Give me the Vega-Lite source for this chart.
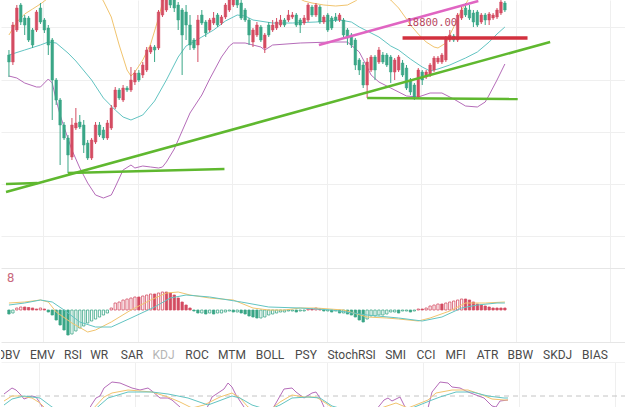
{
"$schema": "https://vega.github.io/schema/vega-lite/v6.json",
"background": "white",
"padding": 0,
"spacing": 0,
"bounds": "flush",
"config": {"view": {"stroke": null}, "axis": {"gridColor": "#efefef", "gridWidth": 1}},
"resolve": {"scale": {"x": "independent", "y": "independent"}, "axis": {"x": "independent", "y": "independent"}},
"datasets": {
"candles": [
{"i":0,"o":18630,"h":18680,"l":18410,"c":18560},{"i":1,"o":18560,"h":18960,"l":18530,"c":18930},{"i":2,"o":18880,"h":19130,"l":18860,"c":19100},{"i":3,"o":19130,"h":19150,"l":18930,"c":18960},{"i":4,"o":19000,"h":19030,"l":18830,"c":18930},{"i":5,"o":19000,"h":19020,"l":18760,"c":18780},{"i":6,"o":18880,"h":18900,"l":18700,"c":18730},{"i":7,"o":18880,"h":19080,"l":18860,"c":19060},{"i":8,"o":19100,"h":19150,"l":18940,"c":18960},{"i":9,"o":18980,"h":19000,"l":18850,"c":18880},
{"i":10,"o":18900,"h":18930,"l":18630,"c":18730},{"i":11,"o":18780,"h":18800,"l":17980,"c":18380},{"i":12,"o":18380,"h":18400,"l":18130,"c":18180},{"i":13,"o":18180,"h":18200,"l":17530,"c":17930},{"i":14,"o":17930,"h":17960,"l":17780,"c":17800},{"i":15,"o":17800,"h":17830,"l":17450,"c":17630},{"i":16,"o":17610,"h":18000,"l":17580,"c":17930},{"i":17,"o":17900,"h":18100,"l":17880,"c":17950},{"i":18,"o":17960,"h":18030,"l":17890,"c":17910},{"i":19,"o":17930,"h":17980,"l":17650,"c":17730},
{"i":20,"o":17750,"h":17780,"l":17580,"c":17600},{"i":21,"o":17600,"h":17800,"l":17580,"c":17780},{"i":22,"o":17760,"h":17960,"l":17740,"c":17930},{"i":23,"o":17930,"h":17960,"l":17810,"c":17830},{"i":24,"o":17880,"h":17910,"l":17780,"c":17800},{"i":25,"o":17800,"h":17980,"l":17780,"c":17950},{"i":26,"o":17900,"h":18130,"l":17880,"c":18100},{"i":27,"o":18110,"h":18310,"l":18090,"c":18280},{"i":28,"o":18280,"h":18300,"l":18180,"c":18200},{"i":29,"o":18180,"h":18330,"l":18160,"c":18300},
{"i":30,"o":18300,"h":18320,"l":18260,"c":18280},{"i":31,"o":18280,"h":18510,"l":18260,"c":18380},{"i":32,"o":18360,"h":18480,"l":18330,"c":18450},{"i":33,"o":18450,"h":18480,"l":18360,"c":18380},{"i":34,"o":18430,"h":18560,"l":18400,"c":18530},{"i":35,"o":18480,"h":18710,"l":18460,"c":18680},{"i":36,"o":18660,"h":18730,"l":18640,"c":18710},{"i":37,"o":18710,"h":18730,"l":18560,"c":18680},{"i":38,"o":18700,"h":19080,"l":18680,"c":19060},{"i":39,"o":19030,"h":19230,"l":19010,"c":19180},
{"i":40,"o":19080,"h":19260,"l":19060,"c":19210},{"i":41,"o":19210,"h":19260,"l":19100,"c":19130},{"i":42,"o":19180,"h":19230,"l":19060,"c":19100},{"i":43,"o":19130,"h":19160,"l":18880,"c":18980},{"i":44,"o":19080,"h":19100,"l":18430,"c":18830},{"i":45,"o":19060,"h":19130,"l":18780,"c":18930},{"i":46,"o":18930,"h":19030,"l":18680,"c":18730},{"i":47,"o":18780,"h":18800,"l":18680,"c":18700},{"i":48,"o":18730,"h":19030,"l":18560,"c":18980},{"i":49,"o":19030,"h":19080,"l":18930,"c":18950},
{"i":50,"o":18960,"h":18980,"l":18810,"c":18850},{"i":51,"o":18880,"h":19000,"l":18860,"c":18980},{"i":52,"o":18950,"h":19060,"l":18930,"c":19000},{"i":53,"o":19030,"h":19050,"l":18910,"c":18930},{"i":54,"o":18950,"h":19030,"l":18930,"c":19010},{"i":55,"o":19010,"h":19150,"l":18990,"c":19130},{"i":56,"o":19080,"h":19210,"l":19060,"c":19180},{"i":57,"o":19130,"h":19230,"l":19110,"c":19180},{"i":58,"o":19180,"h":19210,"l":19100,"c":19130},{"i":59,"o":19150,"h":19180,"l":18980,"c":19000},
{"i":60,"o":19080,"h":19100,"l":18960,"c":18980},{"i":61,"o":18980,"h":19000,"l":18730,"c":18830},{"i":62,"o":18760,"h":18900,"l":18710,"c":18880},{"i":63,"o":18830,"h":18960,"l":18810,"c":18930},{"i":64,"o":18910,"h":18930,"l":18760,"c":18780},{"i":65,"o":18700,"h":18850,"l":18650,"c":18830},{"i":66,"o":18930,"h":18960,"l":18810,"c":18830},{"i":67,"o":18880,"h":18980,"l":18860,"c":18930},{"i":68,"o":18900,"h":19000,"l":18880,"c":18960},{"i":69,"o":18930,"h":19030,"l":18910,"c":18980},
{"i":70,"o":18980,"h":19000,"l":18910,"c":18930},{"i":71,"o":18980,"h":19080,"l":18960,"c":19030},{"i":72,"o":19010,"h":19060,"l":18990,"c":19030},{"i":73,"o":19030,"h":19050,"l":18910,"c":18930},{"i":74,"o":18980,"h":19000,"l":18850,"c":18930},{"i":75,"o":18950,"h":19030,"l":18930,"c":19000},{"i":76,"o":18980,"h":19150,"l":18960,"c":19130},{"i":77,"o":19110,"h":19130,"l":19010,"c":19030},{"i":78,"o":19030,"h":19150,"l":19010,"c":19130},{"i":79,"o":19110,"h":19130,"l":18940,"c":18960},
{"i":80,"o":18960,"h":19030,"l":18940,"c":19010},{"i":81,"o":19030,"h":19050,"l":18860,"c":18880},{"i":82,"o":19000,"h":19020,"l":18880,"c":18900},{"i":83,"o":19010,"h":19050,"l":18960,"c":18980},{"i":84,"o":18980,"h":19050,"l":18960,"c":19030},{"i":85,"o":18980,"h":19000,"l":18810,"c":18830},{"i":86,"o":18880,"h":18900,"l":18730,"c":18800},{"i":87,"o":18830,"h":18850,"l":18700,"c":18730},{"i":88,"o":18780,"h":18800,"l":18480,"c":18530},{"i":89,"o":18580,"h":18600,"l":18430,"c":18480},
{"i":90,"o":18530,"h":18560,"l":18300,"c":18330},{"i":91,"o":18330,"h":18600,"l":18200,"c":18560},{"i":92,"o":18480,"h":18630,"l":18460,"c":18610},{"i":93,"o":18610,"h":18630,"l":18380,"c":18480},{"i":94,"o":18560,"h":18710,"l":18540,"c":18680},{"i":95,"o":18630,"h":18660,"l":18540,"c":18560},{"i":96,"o":18630,"h":18650,"l":18510,"c":18530},{"i":97,"o":18610,"h":18630,"l":18350,"c":18460},{"i":98,"o":18460,"h":18600,"l":18380,"c":18580},{"i":99,"o":18480,"h":18630,"l":18460,"c":18610},
{"i":100,"o":18550,"h":18580,"l":18410,"c":18430},{"i":101,"o":18500,"h":18530,"l":18280,"c":18300},{"i":102,"o":18380,"h":18400,"l":18230,"c":18260},{"i":103,"o":18330,"h":18350,"l":18180,"c":18210},{"i":104,"o":18210,"h":18500,"l":18190,"c":18480},{"i":105,"o":18460,"h":18480,"l":18330,"c":18380},{"i":106,"o":18410,"h":18480,"l":18390,"c":18460},{"i":107,"o":18430,"h":18550,"l":18410,"c":18530},{"i":108,"o":18480,"h":18620,"l":18460,"c":18600},{"i":109,"o":18560,"h":18620,"l":18540,"c":18600},
{"i":110,"o":18560,"h":18650,"l":18540,"c":18630},{"i":111,"o":18580,"h":18820,"l":18560,"c":18800},{"i":112,"o":18780,"h":18880,"l":18760,"c":18830},{"i":113,"o":18820,"h":18840,"l":18760,"c":18780},{"i":114,"o":18780,"h":19050,"l":18760,"c":19030},{"i":115,"o":19000,"h":19130,"l":18980,"c":19080},{"i":116,"o":19100,"h":19150,"l":19010,"c":19030},{"i":117,"o":19080,"h":19130,"l":18980,"c":19000},{"i":118,"o":19050,"h":19080,"l":18910,"c":18960},{"i":119,"o":19060,"h":19080,"l":18910,"c":18930},
{"i":120,"o":18960,"h":19050,"l":18940,"c":19030},{"i":121,"o":19030,"h":19050,"l":18930,"c":18980},{"i":122,"o":18980,"h":19060,"l":18930,"c":19040},{"i":123,"o":19000,"h":19050,"l":18980,"c":19030},{"i":124,"o":19010,"h":19100,"l":18990,"c":19080},{"i":125,"o":19050,"h":19180,"l":19030,"c":19160},{"i":126,"o":19150,"h":19170,"l":19060,"c":19080}
],
"boll": [
{"b":"up","i":0,"p":18830},{"b":"up","i":2,"p":18960},{"b":"up","i":4,"p":19040},{"b":"up","i":6,"p":19090},{"b":"up","i":8,"p":19140},{"b":"up","i":10,"p":19200},{"b":"up","i":12,"p":19280},{"b":"up","i":14,"p":19360},{"b":"up","i":16,"p":19430},{"b":"up","i":18,"p":19430},{"b":"up","i":20,"p":19380},{"b":"up","i":22,"p":19280},{"b":"up","i":24,"p":19170},{"b":"up","i":26,"p":19010},{"b":"up","i":28,"p":18730},{"b":"up","i":30,"p":18480},{"b":"up","i":31,"p":18420},{"b":"up","i":32,"p":18460},{"b":"up","i":34,"p":18580},{"b":"up","i":36,"p":18740},{"b":"up","i":38,"p":19000},{"b":"up","i":39,"p":19150},{"b":"up","i":40,"p":19280},{"b":"up","i":42,"p":19480},{"b":"up","i":45,"p":19580},{"b":"up","i":50,"p":19580},{"b":"up","i":60,"p":19480},{"b":"up","i":70,"p":19330},{"b":"up","i":73,"p":19210},{"b":"up","i":75,"p":19170},{"b":"up","i":77,"p":19150},{"b":"up","i":80,"p":19130},{"b":"up","i":83,"p":19120},{"b":"up","i":86,"p":19130},{"b":"up","i":88,"p":19170},{"b":"up","i":90,"p":19230},{"b":"up","i":93,"p":19280},{"b":"up","i":96,"p":19200},{"b":"up","i":97,"p":19180},{"b":"up","i":99,"p":19100},{"b":"up","i":101,"p":18990},{"b":"up","i":102,"p":18930},{"b":"up","i":104,"p":18840},{"b":"up","i":106,"p":18760},{"b":"up","i":108,"p":18710},{"b":"up","i":109,"p":18700},{"b":"up","i":111,"p":18750},{"b":"up","i":113,"p":18910},{"b":"up","i":114,"p":18990},{"b":"up","i":115,"p":19080},{"b":"up","i":117,"p":19200},{"b":"up","i":120,"p":19330},{"b":"up","i":123,"p":19400},{"b":"up","i":126,"p":19460},
{"b":"mid","i":0,"p":18630},{"b":"mid","i":4,"p":18680},{"b":"mid","i":8,"p":18730},{"b":"mid","i":10,"p":18760},{"b":"mid","i":12,"p":18750},{"b":"mid","i":15,"p":18650},{"b":"mid","i":17,"p":18570},{"b":"mid","i":21,"p":18380},{"b":"mid","i":24,"p":18200},{"b":"mid","i":27,"p":18080},{"b":"mid","i":29,"p":18010},{"b":"mid","i":31,"p":17980},{"b":"mid","i":34,"p":18030},{"b":"mid","i":37,"p":18170},{"b":"mid","i":40,"p":18380},{"b":"mid","i":43,"p":18610},{"b":"mid","i":45,"p":18720},{"b":"mid","i":49,"p":18810},{"b":"mid","i":52,"p":18880},{"b":"mid","i":55,"p":18970},{"b":"mid","i":58,"p":19030},{"b":"mid","i":60,"p":19020},{"b":"mid","i":62,"p":18980},{"b":"mid","i":67,"p":18950},{"b":"mid","i":72,"p":18950},{"b":"mid","i":78,"p":18960},{"b":"mid","i":84,"p":18980},{"b":"mid","i":87,"p":18960},{"b":"mid","i":89,"p":18910},{"b":"mid","i":92,"p":18850},{"b":"mid","i":94,"p":18810},{"b":"mid","i":97,"p":18720},{"b":"mid","i":99,"p":18680},{"b":"mid","i":102,"p":18590},{"b":"mid","i":105,"p":18510},{"b":"mid","i":107,"p":18470},{"b":"mid","i":109,"p":18490},{"b":"mid","i":112,"p":18530},{"b":"mid","i":116,"p":18600},{"b":"mid","i":119,"p":18660},{"b":"mid","i":122,"p":18760},{"b":"mid","i":124,"p":18840},{"b":"mid","i":126,"p":18910},
{"b":"low","i":0,"p":18420},{"b":"low","i":2,"p":18400},{"b":"low","i":4,"p":18350},{"b":"low","i":7,"p":18310},{"b":"low","i":8,"p":18310},{"b":"low","i":9,"p":18350},{"b":"low","i":10,"p":18390},{"b":"low","i":11,"p":18350},{"b":"low","i":12,"p":18180},{"b":"low","i":13,"p":18030},{"b":"low","i":14,"p":17910},{"b":"low","i":16,"p":17680},{"b":"low","i":18,"p":17500},{"b":"low","i":20,"p":17350},{"b":"low","i":22,"p":17230},{"b":"low","i":24,"p":17200},{"b":"low","i":26,"p":17230},{"b":"low","i":27,"p":17310},{"b":"low","i":29,"p":17480},{"b":"low","i":31,"p":17530},{"b":"low","i":32,"p":17500},{"b":"low","i":34,"p":17520},{"b":"low","i":36,"p":17510},{"b":"low","i":38,"p":17500},{"b":"low","i":39,"p":17510},{"b":"low","i":40,"p":17560},{"b":"low","i":42,"p":17690},{"b":"low","i":44,"p":17870},{"b":"low","i":46,"p":18050},{"b":"low","i":49,"p":18230},{"b":"low","i":51,"p":18390},{"b":"low","i":54,"p":18610},{"b":"low","i":56,"p":18720},{"b":"low","i":57,"p":18750},{"b":"low","i":60,"p":18750},{"b":"low","i":62,"p":18730},{"b":"low","i":64,"p":18710},{"b":"low","i":65,"p":18680},{"b":"low","i":67,"p":18730},{"b":"low","i":74,"p":18750},{"b":"low","i":82,"p":18760},{"b":"low","i":86,"p":18760},{"b":"low","i":89,"p":18660},{"b":"low","i":91,"p":18510},{"b":"low","i":92,"p":18430},{"b":"low","i":94,"p":18360},{"b":"low","i":97,"p":18300},{"b":"low","i":101,"p":18220},{"b":"low","i":104,"p":18210},{"b":"low","i":107,"p":18250},{"b":"low","i":110,"p":18250},{"b":"low","i":113,"p":18190},{"b":"low","i":116,"p":18120},{"b":"low","i":119,"p":18110},{"b":"low","i":121,"p":18160},{"b":"low","i":122,"p":18230},{"b":"low","i":124,"p":18380},{"b":"low","i":126,"p":18540}
],
"tl": [
{"id":"g1","i":-0.75,"p":17260},{"id":"g1","i":137.5,"p":18760},
{"id":"g2","i":-0.75,"p":17340},{"id":"g2","i":7.25,"p":17350},
{"id":"g3","i":15,"p":17450},{"id":"g3","i":54.75,"p":17490},
{"id":"g4","i":91,"p":18200},{"id":"g4","i":129.25,"p":18190},
{"id":"r","i":100,"p":18800},{"id":"r","i":131.75,"p":18800},
{"id":"pk","i":78.75,"p":18730},{"id":"pk","i":119.25,"p":19170}
],
"macdh": [
{"i":0,"h":-0.004},{"i":1,"h":-0.003},{"i":2,"h":0.002},{"i":3,"h":0.003},{"i":4,"h":0.003},{"i":5,"h":0.0025},{"i":6,"h":0.002},{"i":7,"h":0.001},{"i":8,"h":0.002},{"i":9,"h":0.001},
{"i":10,"h":-0.002},{"i":11,"h":-0.005},{"i":12,"h":-0.010},{"i":13,"h":-0.015},{"i":14,"h":-0.020},{"i":15,"h":-0.025},{"i":16,"h":-0.024},{"i":17,"h":-0.021},{"i":18,"h":-0.018},{"i":19,"h":-0.016},
{"i":20,"h":-0.013},{"i":21,"h":-0.011},{"i":22,"h":-0.009},{"i":23,"h":-0.007},{"i":24,"h":-0.005},{"i":25,"h":-0.003},{"i":26,"h":0.002},{"i":27,"h":0.007},{"i":28,"h":0.008},{"i":29,"h":0.010},
{"i":30,"h":0.011},{"i":31,"h":0.012},{"i":32,"h":0.013},{"i":33,"h":0.013},{"i":34,"h":0.014},{"i":35,"h":0.015},{"i":36,"h":0.016},{"i":37,"h":0.016},{"i":38,"h":0.017},{"i":39,"h":0.018},
{"i":40,"h":0.018},{"i":41,"h":0.017},{"i":42,"h":0.015},{"i":43,"h":0.012},{"i":44,"h":0.008},{"i":45,"h":0.005},{"i":46,"h":0.002},{"i":47,"h":-0.001},{"i":48,"h":-0.003},{"i":49,"h":-0.003},
{"i":50,"h":-0.004},{"i":51,"h":-0.003},{"i":52,"h":-0.004},{"i":53,"h":-0.003},{"i":54,"h":-0.003},{"i":55,"h":-0.002},{"i":56,"h":-0.001},{"i":57,"h":-0.002},{"i":58,"h":-0.002},{"i":59,"h":-0.003},
{"i":60,"h":-0.004},{"i":61,"h":-0.006},{"i":62,"h":-0.007},{"i":63,"h":-0.008},{"i":64,"h":-0.008},{"i":65,"h":-0.007},{"i":66,"h":-0.005},{"i":67,"h":-0.004},{"i":68,"h":-0.003},{"i":69,"h":-0.002},
{"i":70,"h":-0.002},{"i":71,"h":-0.001},{"i":72,"h":-0.001},{"i":73,"h":-0.002},{"i":74,"h":-0.001},{"i":75,"h":-0.001},{"i":76,"h":0.001},{"i":77,"h":0.001},{"i":78,"h":0.002},{"i":79,"h":0.001},
{"i":80,"h":-0.001},{"i":81,"h":-0.001},{"i":82,"h":-0.002},{"i":83,"h":-0.001},{"i":84,"h":-0.003},{"i":85,"h":-0.003},{"i":86,"h":-0.004},{"i":87,"h":-0.005},{"i":88,"h":-0.007},{"i":89,"h":-0.010},
{"i":90,"h":-0.012},{"i":91,"h":-0.009},{"i":92,"h":-0.006},{"i":93,"h":-0.006},{"i":94,"h":-0.005},{"i":95,"h":-0.005},{"i":96,"h":-0.004},{"i":97,"h":-0.002},{"i":98,"h":-0.002},{"i":99,"h":-0.003},
{"i":100,"h":-0.001},{"i":101,"h":-0.001},{"i":102,"h":-0.002},{"i":103,"h":-0.001},{"i":104,"h":0.001},{"i":105,"h":0.001},{"i":106,"h":0.002},{"i":107,"h":0.004},{"i":108,"h":0.005},{"i":109,"h":0.006},
{"i":110,"h":0.006},{"i":111,"h":0.007},{"i":112,"h":0.008},{"i":113,"h":0.009},{"i":114,"h":0.010},{"i":115,"h":0.011},{"i":116,"h":0.011},{"i":117,"h":0.010},{"i":118,"h":0.008},{"i":119,"h":0.006},
{"i":120,"h":0.005},{"i":121,"h":0.004},{"i":122,"h":0.003},{"i":123,"h":0.002},{"i":124,"h":0.002},{"i":125,"h":0.002},{"i":126,"h":0.002}
],
"macdl": [
{"s":"dif","i":0,"v":0.007},{"s":"dif","i":4,"v":0.008},{"s":"dif","i":8,"v":0.010},{"s":"dif","i":10,"v":0.008},{"s":"dif","i":12,"v":-0.002},{"s":"dif","i":16,"v":-0.013},{"s":"dif","i":20,"v":-0.022},{"s":"dif","i":22,"v":-0.020},{"s":"dif","i":26,"v":-0.012},{"s":"dif","i":31,"v":0.0},{"s":"dif","i":36,"v":0.010},{"s":"dif","i":40,"v":0.017},{"s":"dif","i":43,"v":0.018},{"s":"dif","i":46,"v":0.015},{"s":"dif","i":51,"v":0.012},{"s":"dif","i":57,"v":0.010},{"s":"dif","i":62,"v":0.002},{"s":"dif","i":66,"v":0.0},{"s":"dif","i":70,"v":0.0},{"s":"dif","i":74,"v":0.002},{"s":"dif","i":78,"v":0.002},{"s":"dif","i":85,"v":0.0},{"s":"dif","i":91,"v":-0.007},{"s":"dif","i":96,"v":-0.008},{"s":"dif","i":99,"v":-0.009},{"s":"dif","i":104,"v":-0.011},{"s":"dif","i":107,"v":-0.008},{"s":"dif","i":112,"v":-0.001},{"s":"dif","i":116,"v":0.007},{"s":"dif","i":121,"v":0.007},{"s":"dif","i":126,"v":0.008},
{"s":"dea","i":0,"v":0.005},{"s":"dea","i":4,"v":0.007},{"s":"dea","i":8,"v":0.010},{"s":"dea","i":11,"v":0.008},{"s":"dea","i":14,"v":0.0},{"s":"dea","i":18,"v":-0.012},{"s":"dea","i":22,"v":-0.017},{"s":"dea","i":26,"v":-0.017},{"s":"dea","i":31,"v":-0.008},{"s":"dea","i":37,"v":0.003},{"s":"dea","i":41,"v":0.012},{"s":"dea","i":45,"v":0.015},{"s":"dea","i":51,"v":0.013},{"s":"dea","i":59,"v":0.008},{"s":"dea","i":66,"v":0.003},{"s":"dea","i":74,"v":0.002},{"s":"dea","i":82,"v":0.0},{"s":"dea","i":91,"v":-0.005},{"s":"dea","i":99,"v":-0.008},{"s":"dea","i":105,"v":-0.011},{"s":"dea","i":110,"v":-0.007},{"s":"dea","i":115,"v":0.002},{"s":"dea","i":119,"v":0.005},{"s":"dea","i":124,"v":0.007},{"s":"dea","i":126,"v":0.007}
],
"kdj": [
{"k":"J","i":0,"v":82},{"k":"J","i":2,"v":88},{"k":"J","i":3,"v":86},{"k":"J","i":4,"v":82},{"k":"J","i":5,"v":77},{"k":"J","i":7,"v":80},{"k":"J","i":8,"v":79},{"k":"J","i":9,"v":73},{"k":"J","i":10,"v":66},{"k":"J","i":12,"v":48},{"k":"J","i":16,"v":36},{"k":"J","i":20,"v":58},{"k":"J","i":22,"v":72},{"k":"J","i":23,"v":78},{"k":"J","i":24,"v":80},{"k":"J","i":25,"v":88},{"k":"J","i":27,"v":94},{"k":"J","i":29,"v":93},{"k":"J","i":32,"v":88},{"k":"J","i":34,"v":86},{"k":"J","i":36,"v":88},{"k":"J","i":37,"v":85},{"k":"J","i":39,"v":78},{"k":"J","i":41,"v":78},{"k":"J","i":42,"v":76},{"k":"J","i":44,"v":69},{"k":"J","i":47,"v":51},{"k":"J","i":49,"v":58},{"k":"J","i":51,"v":70},{"k":"J","i":52,"v":79},{"k":"J","i":55,"v":87},{"k":"J","i":56,"v":93},{"k":"J","i":57,"v":89},{"k":"J","i":58,"v":81},{"k":"J","i":60,"v":69},{"k":"J","i":63,"v":46},{"k":"J","i":66,"v":56},{"k":"J","i":67,"v":66},{"k":"J","i":69,"v":80},{"k":"J","i":70,"v":87},{"k":"J","i":72,"v":88},{"k":"J","i":73,"v":84},{"k":"J","i":75,"v":78},{"k":"J","i":77,"v":83},{"k":"J","i":78,"v":84},{"k":"J","i":79,"v":78},{"k":"J","i":80,"v":69},{"k":"J","i":83,"v":46},{"k":"J","i":89,"v":46},{"k":"J","i":93,"v":66},{"k":"J","i":95,"v":76},{"k":"J","i":96,"v":78},{"k":"J","i":97,"v":75},{"k":"J","i":99,"v":79},{"k":"J","i":100,"v":71},{"k":"J","i":102,"v":56},{"k":"J","i":105,"v":58},{"k":"J","i":106,"v":68},{"k":"J","i":107,"v":84},{"k":"J","i":109,"v":94},{"k":"J","i":111,"v":93},{"k":"J","i":112,"v":89},{"k":"J","i":114,"v":88},{"k":"J","i":116,"v":84},{"k":"J","i":118,"v":81},{"k":"J","i":120,"v":78},{"k":"J","i":122,"v":70},{"k":"J","i":123,"v":69},{"k":"J","i":124,"v":75},{"k":"J","i":126,"v":76},
{"k":"K","i":0,"v":75},{"k":"K","i":2,"v":80},{"k":"K","i":4,"v":80},{"k":"K","i":7,"v":78},{"k":"K","i":9,"v":73},{"k":"K","i":12,"v":61},{"k":"K","i":17,"v":51},{"k":"K","i":22,"v":66},{"k":"K","i":25,"v":79},{"k":"K","i":27,"v":83},{"k":"K","i":31,"v":86},{"k":"K","i":34,"v":85},{"k":"K","i":37,"v":84},{"k":"K","i":41,"v":79},{"k":"K","i":44,"v":74},{"k":"K","i":47,"v":68},{"k":"K","i":50,"v":71},{"k":"K","i":52,"v":75},{"k":"K","i":54,"v":79},{"k":"K","i":57,"v":83},{"k":"K","i":59,"v":78},{"k":"K","i":61,"v":69},{"k":"K","i":65,"v":61},{"k":"K","i":69,"v":74},{"k":"K","i":72,"v":81},{"k":"K","i":75,"v":79},{"k":"K","i":78,"v":79},{"k":"K","i":80,"v":74},{"k":"K","i":83,"v":66},{"k":"K","i":90,"v":61},{"k":"K","i":95,"v":69},{"k":"K","i":98,"v":73},{"k":"K","i":101,"v":68},{"k":"K","i":106,"v":76},{"k":"K","i":108,"v":83},{"k":"K","i":112,"v":86},{"k":"K","i":116,"v":86},{"k":"K","i":119,"v":82},{"k":"K","i":122,"v":77},{"k":"K","i":125,"v":76},{"k":"K","i":126,"v":76},
{"k":"D","i":0,"v":71},{"k":"D","i":2,"v":77},{"k":"D","i":5,"v":80},{"k":"D","i":9,"v":78},{"k":"D","i":12,"v":69},{"k":"D","i":17,"v":58},{"k":"D","i":22,"v":64},{"k":"D","i":26,"v":78},{"k":"D","i":31,"v":84},{"k":"D","i":37,"v":84},{"k":"D","i":41,"v":82},{"k":"D","i":46,"v":78},{"k":"D","i":51,"v":71},{"k":"D","i":53,"v":74},{"k":"D","i":57,"v":80},{"k":"D","i":59,"v":78},{"k":"D","i":62,"v":71},{"k":"D","i":66,"v":66},{"k":"D","i":69,"v":71},{"k":"D","i":72,"v":78},{"k":"D","i":76,"v":79},{"k":"D","i":79,"v":78},{"k":"D","i":82,"v":70},{"k":"D","i":90,"v":61},{"k":"D","i":97,"v":66},{"k":"D","i":102,"v":68},{"k":"D","i":107,"v":76},{"k":"D","i":109,"v":79},{"k":"D","i":113,"v":84},{"k":"D","i":117,"v":84},{"k":"D","i":121,"v":80},{"k":"D","i":125,"v":78},{"k":"D","i":126,"v":78}
],
"tabs": [
{"t":"OBV","pos":1.1},{"t":"EMV","pos":9.6},{"t":"RSI","pos":17.25},{"t":"WR","pos":23.8},{"t":"SAR","pos":32},{"t":"KDJ","pos":39.9},{"t":"ROC","pos":48.25},{"t":"MTM","pos":57},{"t":"BOLL","pos":66.5},{"t":"PSY","pos":75.5},{"t":"StochRSI","pos":86.9},{"t":"SMI","pos":97.9},{"t":"CCI","pos":105.5},{"t":"MFI","pos":112.9},{"t":"ATR","pos":120.9},{"t":"BBW","pos":129.1},{"t":"SKDJ","pos":138.4},{"t":"BIAS","pos":147.75}
]
},
"vconcat": [
{
"width": 625, "height": 268,
"encoding": {"x": {"field": "i", "type": "quantitative", "scale": {"domain": [-0.75, 155.5], "nice": false, "zero": false}, "axis": {"title": null, "labels": false, "ticks": false, "domain": false, "grid": true, "values": [8.75, 32.75, 56.75, 80.75, 104.75, 128.75, 152.75]}}},
"layer": [
{"data": {"name": "boll"}, "mark": {"type": "line", "strokeWidth": 1, "clip": true},
 "encoding": {"y": {"field": "p", "type": "quantitative", "scale": {"domain": [16500, 19180], "nice": false, "zero": false}, "axis": {"title": null, "labels": false, "ticks": false, "domain": false, "grid": true, "values": [18910, 18380, 17860, 17340, 16820]}},
  "color": {"field": "b", "type": "nominal", "scale": {"domain": ["up", "mid", "low"], "range": ["#f1c46e", "#62c4c2", "#b56cb9"]}, "legend": null}, "order": {"field": "i"}}},
{"data": {"name": "candles"}, "mark": {"type": "rule", "strokeWidth": 1, "clip": true},
 "encoding": {"y": {"field": "l", "type": "quantitative", "scale": {"domain": [16500, 19180], "nice": false, "zero": false}, "axis": {"title": null, "labels": false, "ticks": false, "domain": false, "grid": true, "values": [18910, 18380, 17860, 17340, 16820]}},
  "y2": {"field": "h"},
  "color": {"condition": {"test": "datum.c >= datum.o", "value": "#d44c62"}, "value": "#3aa687"}}},
{"data": {"name": "candles"}, "mark": {"type": "bar", "width": 2.6, "orient": "vertical", "clip": true, "strokeWidth": 0.5},
 "encoding": {"y": {"field": "o", "type": "quantitative", "scale": {"domain": [16500, 19180], "nice": false, "zero": false}, "axis": {"title": null, "labels": false, "ticks": false, "domain": false, "grid": true, "values": [18910, 18380, 17860, 17340, 16820]}},
  "y2": {"field": "c"},
  "color": {"condition": {"test": "datum.c >= datum.o", "value": "#d44c62"}, "value": "#3aa687"},
  "stroke": {"condition": {"test": "datum.c >= datum.o", "value": "#d44c62"}, "value": "#3aa687"}}},
{"data": {"name": "tl"}, "transform": [{"filter": "indexof(['g1','g2','g3','g4'], datum.id) >= 0"}],
 "mark": {"type": "line", "strokeWidth": 2.5, "color": "#5fb82f", "clip": true},
 "encoding": {"y": {"field": "p", "type": "quantitative", "scale": {"domain": [16500, 19180], "nice": false, "zero": false}, "axis": {"title": null, "labels": false, "ticks": false, "domain": false, "grid": true, "values": [18910, 18380, 17860, 17340, 16820]}},
  "detail": {"field": "id"}}},
{"data": {"name": "tl"}, "transform": [{"filter": "datum.id == 'pk'"}],
 "mark": {"type": "line", "strokeWidth": 2.5, "color": "#e065c2", "clip": true},
 "encoding": {"y": {"field": "p", "type": "quantitative", "scale": {"domain": [16500, 19180], "nice": false, "zero": false}, "axis": {"title": null, "labels": false, "ticks": false, "domain": false, "grid": true, "values": [18910, 18380, 17860, 17340, 16820]}}}},
{"data": {"name": "tl"}, "transform": [{"filter": "datum.id == 'r'"}],
 "mark": {"type": "line", "strokeWidth": 3.5, "color": "#d2303e", "clip": true},
 "encoding": {"y": {"field": "p", "type": "quantitative", "scale": {"domain": [16500, 19180], "nice": false, "zero": false}, "axis": {"title": null, "labels": false, "ticks": false, "domain": false, "grid": true, "values": [18910, 18380, 17860, 17340, 16820]}}}},
{"data": {"name": "tl"}, "transform": [{"filter": "datum.id == 'r' && datum.i == 100"}],
 "mark": {"type": "text", "align": "left", "baseline": "middle", "dx": 4, "dy": -15, "font": "DejaVu Sans Mono", "fontSize": 10.5, "color": "#b8485f"},
 "encoding": {"y": {"field": "p", "type": "quantitative", "scale": {"domain": [16500, 19180], "nice": false, "zero": false}, "axis": {"title": null, "labels": false, "ticks": false, "domain": false, "grid": true, "values": [18910, 18380, 17860, 17340, 16820]}},
  "text": {"field": "p", "format": ".2f"}}}
]
},
{
"width": 625, "height": 74,
"encoding": {"x": {"field": "i", "type": "quantitative", "scale": {"domain": [-0.75, 155.5], "nice": false, "zero": false}, "axis": {"title": null, "labels": false, "ticks": false, "domain": false, "grid": true, "values": [8.75, 32.75, 56.75, 80.75, 104.75, 128.75, 152.75]}}},
"layer": [
{"data": {"name": "macdh"}, "transform": [{"window": [{"op": "lag", "field": "h", "as": "ph"}], "sort": [{"field": "i"}]}],
 "mark": {"type": "bar", "width": 2.3, "orient": "vertical", "strokeWidth": 0.8},
 "encoding": {"y": {"field": "h", "type": "quantitative", "scale": {"domain": [-0.032, 0.042], "nice": false, "zero": false}, "axis": {"title": null, "labels": false, "ticks": false, "domain": false, "grid": true, "values": [-0.032, 0.042], "gridColor": "#e6e6e6"}},
  "y2": {"datum": 0},
  "fill": {"condition": [{"test": "datum.h >= 0 && datum.h <= datum.ph", "value": "#d44c62"}, {"test": "datum.h < 0 && datum.h < datum.ph", "value": "#3aa687"}], "value": "#ffffff"},
  "stroke": {"condition": {"test": "datum.h >= 0", "value": "#d44c62"}, "value": "#3aa687"}}},
{"data": {"name": "macdl"}, "mark": {"type": "line", "strokeWidth": 1},
 "encoding": {"y": {"field": "v", "type": "quantitative", "scale": {"domain": [-0.032, 0.042], "nice": false, "zero": false}, "axis": {"title": null, "labels": false, "ticks": false, "domain": false, "grid": true, "values": [-0.032, 0.042], "gridColor": "#e6e6e6"}},
  "color": {"field": "s", "type": "nominal", "scale": {"domain": ["dif", "dea"], "range": ["#58b6d0", "#e8c04a"]}, "legend": null}, "order": {"field": "i"}}},
{"data": {"values": [{"i": -0.75, "v": 0.032, "lbl": "8"}]},
 "mark": {"type": "text", "align": "left", "baseline": "middle", "dx": 1, "font": "Roboto", "fontSize": 13, "color": "#c9697d"},
 "encoding": {"y": {"field": "v", "type": "quantitative", "scale": {"domain": [-0.032, 0.042], "nice": false, "zero": false}, "axis": {"title": null, "labels": false, "ticks": false, "domain": false, "grid": true, "values": [-0.032, 0.042], "gridColor": "#e6e6e6"}},
  "text": {"field": "lbl"}}}
]
},
{
"width": 625, "height": 20,
"data": {"name": "tabs"},
"mark": {"type": "text", "baseline": "middle", "dy": 3, "font": "Roboto", "fontSize": 12, "clip": true},
"encoding": {
 "x": {"field": "pos", "type": "quantitative", "scale": {"domain": [-0.75, 155.5], "nice": false, "zero": false}, "axis": null},
 "text": {"field": "t"},
 "color": {"condition": {"test": "datum.t == 'KDJ'", "value": "#b5b5b5"}, "value": "#4a4a4a"}}
},
{
"width": 625, "height": 45,
"encoding": {"x": {"field": "i", "type": "quantitative", "scale": {"domain": [-0.75, 155.5], "nice": false, "zero": false}, "axis": {"title": null, "labels": false, "ticks": false, "domain": false, "grid": true, "values": [8.75, 32.75, 56.75, 80.75, 104.75, 128.75, 152.75]}}},
"layer": [
{"data": {"values": [{"lvl": 80}]},
 "mark": {"type": "rule", "strokeDash": [5, 4], "color": "#c4c4c4", "strokeWidth": 1},
 "encoding": {"x": null, "y": {"field": "lvl", "type": "quantitative", "scale": {"domain": [69, 114], "nice": false, "zero": false}, "axis": {"title": null, "labels": false, "ticks": false, "domain": false, "grid": true, "values": [114], "gridColor": "#f2f2f2"}}}},
{"data": {"name": "kdj"}, "mark": {"type": "line", "strokeWidth": 1, "clip": true},
 "encoding": {"y": {"field": "v", "type": "quantitative", "scale": {"domain": [69, 114], "nice": false, "zero": false}, "axis": {"title": null, "labels": false, "ticks": false, "domain": false, "grid": true, "values": [114], "gridColor": "#f2f2f2"}},
  "color": {"field": "k", "type": "nominal", "scale": {"domain": ["J", "K", "D"], "range": ["#a25cb7", "#45c2b2", "#e4c24c"]}, "legend": null}, "order": {"field": "i"}}}
]
}
]
}
